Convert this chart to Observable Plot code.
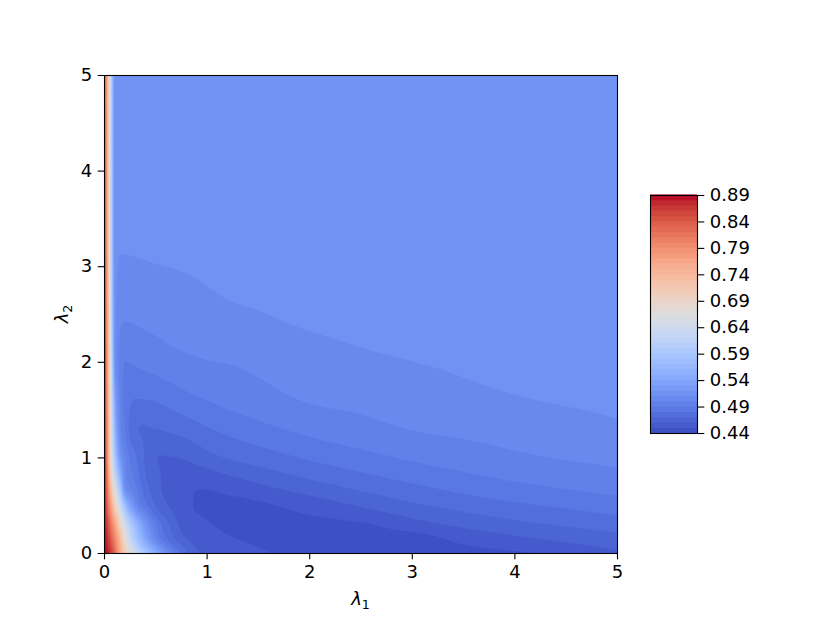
<!DOCTYPE html>
<html><head><meta charset="utf-8">
<script src="https://cdn.jsdelivr.net/npm/d3@7"></script>
<script src="https://cdn.jsdelivr.net/npm/@observablehq/plot@0.6"></script>
<style>
html,body{margin:0;padding:0;background:#fff;}
#wrap{position:relative;width:830px;height:623px;background:#fff;}
#wrap svg{position:absolute;}
</style></head><body><div id="wrap"></div>
<script>
// sample positions
const lambda1 = [0, 0.025, 0.05, 0.075, 0.1, 0.15, 0.2, 0.3, 0.4, 0.5, 0.65, 0.8, 1, 1.25, 1.5, 2, 2.5, 3, 3.5, 4, 4.5, 5];
const lambda2 = [0, 0.15, 0.3, 0.5, 0.7, 1, 1.3, 1.6, 2, 2.5, 3, 3.5, 4, 5];
// values, one row per lambda2
const values = [
  [0.890, 0.883, 0.872, 0.855, 0.825, 0.760, 0.710, 0.640, 0.588, 0.548, 0.500, 0.472, 0.457, 0.454, 0.4512, 0.4475, 0.4455, 0.4455, 0.4465, 0.4483, 0.4530, 0.4580],
  [0.889, 0.872, 0.850, 0.825, 0.800, 0.740, 0.675, 0.595, 0.540, 0.503, 0.474, 0.4605, 0.4545, 0.4505, 0.4485, 0.4458, 0.4455, 0.4462, 0.4526, 0.4577, 0.4620, 0.4663],
  [0.887, 0.860, 0.828, 0.798, 0.770, 0.700, 0.645, 0.570, 0.520, 0.490, 0.468, 0.4545, 0.4508, 0.4478, 0.4470, 0.4473, 0.4488, 0.4558, 0.4621, 0.4671, 0.4711, 0.4747],
  [0.885, 0.835, 0.790, 0.748, 0.705, 0.640, 0.575, 0.510, 0.485, 0.4695, 0.4585, 0.4512, 0.4487, 0.4475, 0.4485, 0.4539, 0.4609, 0.4681, 0.4736, 0.4781, 0.4816, 0.4853],
  [0.883, 0.820, 0.755, 0.700, 0.655, 0.585, 0.510, 0.4915, 0.4735, 0.4635, 0.4555, 0.4501, 0.4505, 0.4545, 0.4583, 0.4657, 0.4725, 0.4784, 0.4836, 0.4879, 0.4911, 0.4939],
  [0.880, 0.800, 0.715, 0.645, 0.595, 0.525, 0.500, 0.482, 0.4685, 0.4601, 0.4596, 0.4612, 0.4665, 0.4713, 0.4745, 0.4813, 0.4865, 0.4914, 0.4951, 0.4982, 0.5006, 0.5024],
  [0.876, 0.795, 0.705, 0.628, 0.565, 0.505, 0.490, 0.4705, 0.4695, 0.4698, 0.4718, 0.4743, 0.4790, 0.4832, 0.4869, 0.4927, 0.4967, 0.5003, 0.5021, 0.5039, 0.5058, 0.5085],
  [0.873, 0.790, 0.695, 0.612, 0.545, 0.500, 0.487, 0.4795, 0.4797, 0.4805, 0.4835, 0.4868, 0.4900, 0.4935, 0.4959, 0.5007, 0.5025, 0.5047, 0.5075, 0.5093, 0.5108, 0.5120],
  [0.870, 0.785, 0.685, 0.598, 0.518, 0.497, 0.4898, 0.4912, 0.4928, 0.4942, 0.4965, 0.4980, 0.4995, 0.5005, 0.5022, 0.5055, 0.5082, 0.5099, 0.5112, 0.5120, 0.5129, 0.5136],
  [0.865, 0.778, 0.675, 0.585, 0.515, 0.5035, 0.5015, 0.5020, 0.5028, 0.5035, 0.5045, 0.5058, 0.5076, 0.5090, 0.5097, 0.5115, 0.5128, 0.5134, 0.5139, 0.5144, 0.5150, 0.5155],
  [0.860, 0.772, 0.668, 0.580, 0.5125, 0.5092, 0.5091, 0.5093, 0.5095, 0.5098, 0.5101, 0.5105, 0.5110, 0.5114, 0.5117, 0.5125, 0.5137, 0.5145, 0.5150, 0.5155, 0.5159, 0.5163],
  [0.855, 0.768, 0.665, 0.578, 0.5135, 0.5113, 0.5113, 0.5114, 0.5116, 0.5118, 0.5120, 0.5122, 0.5125, 0.5128, 0.5132, 0.5138, 0.5145, 0.5153, 0.5158, 0.5162, 0.5166, 0.5170],
  [0.850, 0.765, 0.662, 0.577, 0.5145, 0.5125, 0.5123, 0.5126, 0.5129, 0.5131, 0.5133, 0.5135, 0.5137, 0.5140, 0.5145, 0.5149, 0.5155, 0.5161, 0.5165, 0.5168, 0.5172, 0.5175],
  [0.840, 0.760, 0.660, 0.575, 0.5165, 0.5142, 0.5140, 0.5142, 0.5145, 0.5147, 0.5149, 0.5152, 0.5155, 0.5157, 0.5160, 0.5163, 0.5167, 0.5171, 0.5174, 0.5176, 0.5178, 0.5180]
];
// contour levels and tick labels
const levels = [0.44,0.45,0.46,0.47,0.48,0.49,0.50,0.51,0.52,0.53,0.54,0.55,0.56,0.57,0.58,0.59,0.60,0.61,0.62,0.63,0.64,0.65,0.66,0.67,0.68,0.69,0.70,0.71,0.72,0.73,0.74,0.75,0.76,0.77,0.78,0.79,0.80,0.81,0.82,0.83,0.84,0.85,0.86,0.87,0.88,0.89];
const colorbarTicks = [0.44,0.49,0.54,0.59,0.64,0.69,0.74,0.79,0.84,0.89];
const xTicks = [0,1,2,3,4,5];
const yTicks = [0,1,2,3,4,5];

// coolwarm colormap stops (style)
const coolwarmStops = ["rgb(59,76,192)","rgb(68,90,204)","rgb(77,104,215)","rgb(87,117,225)","rgb(98,130,234)","rgb(108,142,241)","rgb(119,154,247)","rgb(130,165,251)","rgb(141,176,254)","rgb(152,185,255)","rgb(163,194,255)","rgb(173,201,253)","rgb(184,208,249)","rgb(194,213,244)","rgb(204,217,238)","rgb(213,219,230)","rgb(221,221,221)","rgb(229,216,209)","rgb(236,211,197)","rgb(241,204,185)","rgb(245,196,173)","rgb(247,187,160)","rgb(247,177,148)","rgb(247,166,135)","rgb(244,154,123)","rgb(241,141,111)","rgb(236,127,99)","rgb(229,112,88)","rgb(222,96,77)","rgb(213,80,66)","rgb(203,62,56)","rgb(192,40,47)","rgb(180,4,38)"];
const coolwarm = d3.piecewise(d3.interpolateRgb, coolwarmStops);

const points = [];
lambda2.forEach((y, i) => lambda1.forEach((x, j) => points.push({x, y, v: values[i][j]})));

// smooth (monotone cubic, separable) raster interpolation over the sample lattice, used by Plot's contour mark
function slopes(xs, f) {
  const n = xs.length, m = new Float64Array(n), h = [], d = [];
  for (let k = 0; k < n - 1; ++k) { h[k] = xs[k + 1] - xs[k]; d[k] = (f[k + 1] - f[k]) / h[k]; }
  for (let k = 1; k < n - 1; ++k) {
    const p = (d[k - 1] * h[k] + d[k] * h[k - 1]) / (h[k - 1] + h[k]);
    m[k] = (Math.sign(d[k - 1]) + Math.sign(d[k])) * Math.min(Math.abs(d[k - 1]), Math.abs(d[k]), 0.5 * Math.abs(p)) || 0;
  }
  m[0] = d[0]; m[n - 1] = d[n - 2];
  return m;
}
const cell = (arr, p) => Math.max(0, Math.min(arr.length - 2, d3.bisectRight(arr, p) - 1));
function hermite(xs, f, m, k, p) {
  const h = xs[k + 1] - xs[k];
  const t = Math.max(0, Math.min(1, (p - xs[k]) / h)), t2 = t * t, t3 = t2 * t;
  return (2 * t3 - 3 * t2 + 1) * f[k] + (t3 - 2 * t2 + t) * h * m[k] + (-2 * t3 + 3 * t2) * f[k + 1] + (t3 - t2) * h * m[k + 1];
}
function smoothGrid(index, width, height, X, Y, V) {
  const xs = [...new Set(Array.from(index, (i) => X[i]))].sort((a, b) => a - b);
  const ys = [...new Set(Array.from(index, (i) => Y[i]))].sort((a, b) => a - b);
  const G = ys.map(() => new Float64Array(xs.length));
  for (const i of index) G[ys.indexOf(Y[i])][xs.indexOf(X[i])] = V[i];
  const MX = G.map((row) => slopes(xs, row));
  const ycell = Array.from({length: height}, (_, j) => cell(ys, j + 0.5));
  const out = new Float64Array(width * height);
  const r = new Float64Array(ys.length);
  for (let i = 0; i < width; ++i) {
    const px = i + 0.5, a = cell(xs, px);
    for (let b = 0; b < ys.length; ++b) r[b] = hermite(xs, G[b], MX[b], a, px);
    const my = slopes(ys, r);
    for (let j = 0; j < height; ++j) out[j * width + i] = hermite(ys, r, my, ycell[j], j + 0.5);
  }
  return out;
}

const half = (levels[1] - levels[0]) / 2;
const colorScale = () => ({type: "linear", domain: [levels[0] - half, levels[levels.length - 1] - half], interpolate: coolwarm});
const font = {fontFamily: "'DejaVu Sans', sans-serif", fontSize: "18px", color: "black", background: "transparent", overflow: "visible"};

const main = Plot.plot({
  width: 830, height: 623,
  marginLeft: 104, marginRight: 213, marginTop: 75, marginBottom: 70,
  style: font,
  x: {domain: [0, 5]},
  y: {domain: [0, 5]},
  color: colorScale(),
  marks: [
    Plot.contour(points, {x: "x", y: "y", fill: "v", thresholds: levels, interpolate: smoothGrid,
      x1: 0, y1: 0, x2: 5, y2: 5, pixelSize: 1, stroke: "none"}),
    Plot.frame({stroke: "black", strokeWidth: 1.1}),
    Plot.axisX({ticks: xTicks, tickFormat: (d) => String(d), tickSize: 6.3, tickPadding: 5, strokeWidth: 1.1, label: null}),
    Plot.axisY({ticks: yTicks, tickFormat: (d) => String(d), tickSize: 6.3, tickPadding: 6, strokeWidth: 1.1, label: null})
  ]
});
main.style.left = "0px"; main.style.top = "0px";

const ms = d3.select(main);
const xl = ms.append("text").attr("x", 360.5).attr("y", 605).attr("text-anchor", "middle")
  .attr("font-size", 18).attr("font-family", "'DejaVu Sans', sans-serif").attr("fill", "black");
xl.append("tspan").attr("font-style", "italic").text("λ");
xl.append("tspan").attr("font-size", 12.6).attr("dy", 4).text("1");
const yl = ms.append("text").attr("transform", "translate(68,314) rotate(-90)").attr("text-anchor", "middle")
  .attr("font-size", 18).attr("font-family", "'DejaVu Sans', sans-serif").attr("fill", "black");
yl.append("tspan").attr("font-style", "italic").text("λ");
yl.append("tspan").attr("font-size", 12.6).attr("dy", 4).text("2");

const bands = levels.slice(0, -1).map((lo, i) => ({lo, hi: levels[i + 1]}));
const cbar = Plot.plot({
  width: 140, height: 258,
  marginLeft: 0, marginRight: 93, marginTop: 10, marginBottom: 10,
  style: font,
  x: {domain: [0, 1], axis: null},
  y: {domain: [levels[0], levels[levels.length - 1]]},
  color: colorScale(),
  marks: [
    Plot.rect(bands, {x1: 0, x2: 1, y1: "lo", y2: "hi", fill: "lo", insetTop: -0.6}),
    Plot.frame({stroke: "black", strokeWidth: 1.1}),
    Plot.axisY({anchor: "right", ticks: colorbarTicks, tickFormat: (d) => d.toFixed(2), tickSize: 6.3, tickPadding: 6, strokeWidth: 1.1, label: null})
  ]
});
cbar.style.left = "650px"; cbar.style.top = "185px";

const wrap = document.getElementById("wrap");
wrap.appendChild(main);
wrap.appendChild(cbar);
</script></body></html>
